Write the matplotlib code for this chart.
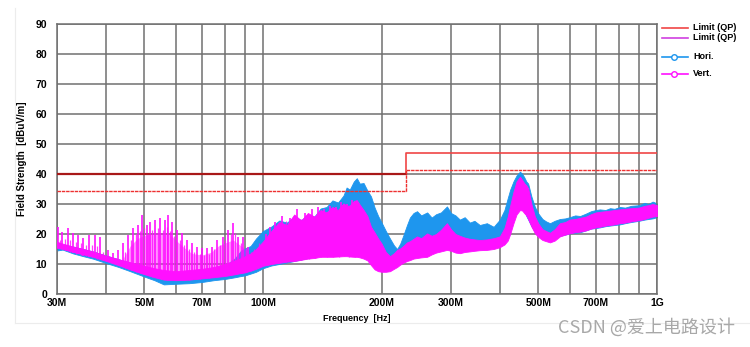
import matplotlib
matplotlib.use("Agg")
import matplotlib.pyplot as plt
from matplotlib.ticker import FixedLocator

# ---- data (MHz / dBuV/m) ----
limit_f = [30, 230, 1000]
limit_qp = [40, 47, 47]
limit_margin = [34.5, 41.5, 41.5]

hori_f = [30, 31, 33, 35, 37, 40, 43, 46, 50, 53, 56, 60, 65, 70, 75, 80, 85, 88, 90, 93,
          96, 100, 105, 110, 115, 120, 125, 130, 135, 140, 145, 150, 155, 160, 163, 166, 170,
          173, 176, 180, 184, 188, 192, 196, 200, 205, 210, 215, 219, 223, 227, 232, 236, 241,
          246, 252, 261, 268, 275, 283, 293, 300, 308, 316, 325, 335, 344, 355, 370, 385, 399,
          410, 418, 424, 432, 440, 449, 455, 460, 466, 471, 480, 490, 500, 512, 523, 535, 550,
          567, 585, 600, 620, 638, 660, 680, 700, 716, 740, 760, 780, 805, 830, 860, 900, 930,
          950, 975, 1000]
hori_lo = [14.5, 14.8, 13.5, 12.6, 11.8, 10.3, 9.0, 7.6, 5.8, 4.6, 3.2, 3.4, 3.6, 4.0, 4.6, 5.0,
           5.6, 6.0, 6.2, 6.8, 7.4, 8.6, 9.5, 10.0, 10.5, 11.0, 11.5, 12.0, 12.5, 13.0, 13.5, 14.0,
           14.5, 15.0, 15.5, 15.8, 16.0, 16.2, 16.0, 15.6, 15.2, 14.8, 14.0, 13.2, 12.4, 11.5, 10.8,
           10.4, 10.2, 10.8, 11.5, 12.5, 13.5, 14.5, 15.2, 15.6, 16.0, 16.2, 16.4, 16.6, 17.0, 17.0,
           16.8, 16.4, 16.4, 16.6, 16.8, 17.0, 17.2, 17.6, 18.2, 19.5, 21.0, 22.5, 25.5, 28.0, 30.0,
           29.5, 28.0, 26.0, 24.8, 22.6, 20.8, 19.8, 19.0, 18.6, 18.4, 18.8, 19.4, 19.8, 20.2, 20.4,
           20.6, 21.2, 21.8, 22.0, 22.2, 22.6, 22.8, 23.0, 23.2, 23.6, 24.0, 24.4, 24.8, 25.0, 25.2,
           25.6]
hori_hi = [17.2, 16.4, 15.8, 15.0, 14.2, 12.8, 11.6, 10.4, 8.8, 7.8, 6.8, 6.2, 6.6, 7.2, 8.0, 9.4,
           12.0, 14.5, 15.2, 16.0, 18.5, 21.0, 22.5, 24.5, 23.8, 25.8, 24.6, 26.5, 25.8, 28.5, 29.0,
           31.2, 30.5, 32.8, 35.5, 34.8, 37.5, 38.6, 36.8, 37.0, 34.5, 32.5, 28.8, 26.0, 23.8, 21.0,
           18.5, 16.2, 15.0, 16.8, 19.5, 23.0, 25.5, 27.0, 27.6, 26.2, 27.2, 25.5, 26.6, 27.2, 29.2,
           27.0, 26.2, 24.8, 25.6, 23.8, 24.4, 23.0, 23.6, 22.4, 24.8, 28.0, 32.0, 34.8, 37.5, 39.5,
           40.8, 40.0, 39.0, 37.5, 36.8, 32.5, 29.0, 26.8, 25.0, 24.2, 23.6, 24.4, 25.0, 25.2, 25.6,
           26.2, 26.0, 26.8, 27.6, 28.0, 28.2, 28.0, 28.6, 28.4, 29.0, 28.8, 29.4, 29.6, 30.4, 30.0,
           30.8, 30.2]

vert_f = hori_f
vert_lo = [15.4, 15.0, 14.0, 13.2, 12.4, 11.0, 9.6, 8.2, 6.6, 5.6, 4.8, 4.6, 4.8, 5.2, 5.6, 6.0,
           6.6, 7.0, 7.2, 7.8, 8.4, 9.4, 10.0, 10.4, 10.8, 11.0, 11.4, 11.8, 12.0, 12.4, 12.4, 12.4,
           12.5, 12.6, 12.6, 12.5, 12.4, 12.4, 12.2, 11.8, 11.2, 9.6, 8.2, 7.6, 7.4, 7.4, 7.6, 8.4,
           9.0, 9.8, 10.4, 11.0, 11.3, 11.8, 12.0, 12.2, 12.4, 13.2, 13.8, 14.2, 14.7, 14.4, 13.8,
           13.6, 14.0, 14.2, 14.4, 14.6, 14.7, 15.0, 15.6, 16.5, 17.8, 20.0, 23.5, 26.5, 28.0, 27.8,
           27.0, 26.2, 25.0, 22.5, 20.2, 19.0, 18.0, 17.6, 17.2, 17.8, 19.2, 19.8, 20.2, 20.6, 20.8,
           21.2, 21.8, 22.2, 22.4, 22.8, 23.0, 23.2, 23.6, 23.8, 24.2, 24.6, 25.0, 25.4, 25.8, 26.0]
vert_hi = [17.4, 16.8, 15.8, 15.0, 14.2, 12.8, 11.6, 10.6, 9.4, 8.6, 8.0, 7.6, 8.0, 8.4, 9.0,
           10.0, 11.2, 12.0, 12.6, 13.5, 15.0, 17.5, 21.0, 24.0, 23.0, 26.5, 24.5, 27.0, 25.8, 28.0,
           27.2, 29.0, 28.0, 30.2, 29.4, 29.5, 31.0, 31.3, 29.8, 28.0, 26.0, 22.4, 20.5, 18.5, 16.8,
           14.0, 12.6, 13.6, 14.7, 15.2, 16.0, 17.2, 17.6, 18.4, 19.2, 18.6, 20.2, 19.4, 20.0, 21.4,
           23.6, 21.6, 20.0, 19.4, 18.8, 18.4, 18.2, 18.0, 18.2, 18.6, 19.2, 22.0, 25.8, 29.5, 34.0,
           37.5, 39.1, 38.0, 37.0, 36.2, 35.2, 30.0, 25.8, 23.5, 21.6, 21.0, 20.4, 21.6, 23.6, 24.0,
           24.8, 25.0, 25.4, 25.8, 26.6, 27.2, 27.4, 27.6, 27.8, 28.0, 28.2, 28.4, 28.6, 28.8, 29.4,
           29.6, 30.0, 29.6]

# strong harmonic spikes on the vertical trace
spike_f = [30.2, 30.9, 32.0, 32.9, 34.0, 35.0, 36.2, 37.4, 38.6, 40.4, 41.6, 42.9, 44.1, 45.4,
           46.8, 48.2, 49.3, 50.8, 51.7, 53.2, 54.8, 56.4, 57.4, 58.8, 60.5, 62.3, 64.1, 66.0,
           68.0, 70.0, 72.1, 74.2, 76.4, 79.2, 81.5, 83.9, 86.4, 89.0, 91.6,
           102, 104, 107, 112, 117, 122, 128, 133, 138, 143, 148, 153, 158, 163, 168]
spike_top = [22.4, 20.8, 22.0, 20.2, 19.7, 18.6, 19.7, 19.7, 19.1, 14.7, 13.6, 14.7, 17.0, 19.7,
             22.0, 23.0, 26.3, 23.0, 24.1, 24.7, 25.2, 24.7, 26.3, 24.0, 21.3, 20.2, 18.0, 17.0,
             15.8, 15.3, 15.3, 15.8, 18.0, 19.1, 21.3, 23.6, 19.1, 19.1, 15.8,
             20.0, 22.5, 24.0, 26.0, 25.5, 28.5, 27.0, 28.2, 29.0, 28.5, 29.5, 29.0, 30.8, 30.0, 31.5]
spike_base = [15.3, 15.0, 14.2, 13.8, 13.2, 12.8, 12.4, 12.0, 11.6, 10.8, 10.2, 9.6, 9.0, 8.4,
              7.8, 7.2, 6.8, 6.4, 6.0, 5.6, 5.2, 4.9, 4.8, 4.7, 4.6, 4.6, 4.7, 4.8, 5.0, 5.2,
              5.4, 5.6, 5.8, 6.0, 6.2, 6.6, 6.8, 7.2, 7.6,
              9.6, 9.8, 10.2, 10.6, 10.9, 11.2, 11.6, 11.9, 12.2, 12.4, 12.4, 12.5, 12.6, 12.6, 12.5]

# weaker spikes in between
minor_f = [30.55, 31.45, 32.45, 33.45, 34.5, 35.6, 36.8, 38.0, 39.3, 44.7, 46.1, 47.5, 48.8,
           50.0, 51.2, 52.4, 54.0, 55.6, 56.9, 58.1, 59.6, 61.4, 63.2, 65.0, 67.0, 69.0, 71.0,
           73.1, 75.3, 77.8, 80.3, 82.7, 85.1, 87.7, 90.3, 93.0, 95.0, 97.5,
           103, 105.5, 109.5, 114.5, 119.5, 125, 130.5, 135.5, 140.5, 145.5, 150.5, 155.5, 160.5,
           165.5, 171]
minor_top = [18.0, 18.5, 18.0, 17.5, 17.0, 16.5, 16.5, 16.0, 14.0, 14.0, 18.0, 20.0, 21.0,
             22.0, 20.0, 21.5, 22.0, 21.5, 22.5, 21.0, 19.5, 18.0, 16.5, 15.0, 14.0, 13.5, 13.0,
             13.5, 15.0, 16.5, 18.0, 20.0, 20.5, 17.0, 15.5, 14.0, 15.0, 17.0,
             19.0, 21.0, 23.0, 24.5, 24.0, 25.0, 26.0, 25.5, 27.0, 27.5, 27.0, 28.0, 28.5,
             29.0, 30.0]
minor_base = [15.2, 14.6, 14.0, 13.5, 13.0, 12.6, 12.2, 11.8, 11.2, 8.7, 8.1, 7.5, 7.0, 6.6,
              6.2, 5.8, 5.4, 5.0, 4.8, 4.7, 4.6, 4.6, 4.7, 4.8, 4.9, 5.1, 5.3, 5.5, 5.7, 5.9,
              6.1, 6.4, 6.7, 7.0, 7.4, 7.8, 8.3, 8.9,
              9.7, 10.0, 10.4, 10.8, 11.0, 11.4, 11.8, 12.0, 12.3, 12.4, 12.4, 12.5, 12.6,
              12.5, 12.4]

# pink haze between the dense spikes
haze_f = [44, 46, 48, 50, 53, 56, 58, 60, 63, 66, 70, 74, 77, 80, 84, 88, 92]
haze_lo = [9.0, 8.2, 7.4, 6.6, 5.8, 5.0, 4.8, 4.6, 4.7, 4.8, 5.2, 5.5, 5.8, 6.0, 6.5, 7.0, 7.6]
haze_hi = [11.5, 16.0, 18.5, 19.5, 20.5, 20.5, 20.0, 18.0, 15.5, 13.5, 13.0, 14.0, 16.0, 17.0,
           18.0, 16.0, 14.0]

x_ticks = [30, 50, 70, 100, 200, 300, 500, 700, 1000]
x_ticklabels = ["30M", "50M", "70M", "100M", "200M", "300M", "500M", "700M", "1G"]
x_grid = [40, 60, 80, 90, 400, 600, 800, 900]

BLUE = "#1e96ee"
MAGENTA = "#ff10ff"

plt.rcParams["font.family"] = ["Liberation Sans", "DejaVu Sans"]

fig = plt.figure(figsize=(7.5, 3.47), dpi=100)
ax = fig.add_axes([57 / 750, 53 / 347, 600 / 750, 270 / 347])

# spectrum traces
ax.fill_between(hori_f, hori_lo, hori_hi, color=BLUE, lw=0.6, zorder=2)
ax.fill_between(haze_f, haze_lo, haze_hi, color=MAGENTA, alpha=0.45, lw=0, zorder=3)
ax.fill_between(vert_f, vert_lo, vert_hi, color=MAGENTA, lw=0.6, zorder=3)
ax.vlines(minor_f, minor_base, minor_top, color=MAGENTA, lw=0.9, alpha=0.8, zorder=3)
ax.vlines(spike_f, spike_base, spike_top, color=MAGENTA, lw=1.2, zorder=3)

# limit lines
ax.step(limit_f, limit_qp, where="post", color="#f04545", lw=1.2, zorder=4)
ax.plot(limit_f[:2], [limit_qp[0]] * 2, color="#a81818", lw=1.6, zorder=4)
ax.step(limit_f, limit_margin, where="post", color="#ee3030", lw=1.0,
        ls=(0, (2.5, 0.6)), zorder=4)

ax.set_xscale("log")
ax.set_xlim(30, 1000)
ax.set_ylim(0, 90)
ax.xaxis.set_major_locator(FixedLocator(x_ticks))
ax.xaxis.set_minor_locator(FixedLocator(x_grid))
ax.set_xticklabels(x_ticklabels)
ax.set_yticks(range(0, 91, 10))
ax.grid(True, which="both", color="#707070", lw=1.1, zorder=1)
ax.set_axisbelow(True)
ax.tick_params(which="both", length=0, labelsize=7.5, pad=3)
ax.tick_params(axis="y", pad=7)
for lab in ax.get_xticklabels() + ax.get_yticklabels():
    lab.set_fontweight("bold")
for s in ax.spines.values():
    s.set_color("#707070")
    s.set_linewidth(1.1)

ax.set_xlabel("Frequency  [Hz]", fontsize=6.5, fontweight="bold", labelpad=4)
ax.set_ylabel("Field Strength  [dBuV/m]", fontsize=7, fontweight="bold", labelpad=6)

# legend drawn at the right of the plot
leg = [("Limit (QP)", "#f04545", None, 0.986),
       ("Limit (QP)", "#d040e0", None, 0.949),
       ("Hori.", BLUE, "o", 0.879),
       ("Vert.", MAGENTA, "o", 0.815)]
for name, col, mk, yy in leg:
    ax.plot([1.008, 1.052], [yy, yy], transform=ax.transAxes, color=col, lw=1.2,
            clip_on=False)
    if mk:
        ax.plot([1.028], [yy], transform=ax.transAxes, color=col, marker=mk, ms=4,
                mfc="white", mew=1.0, clip_on=False)
    ax.text(1.06, yy, name, transform=ax.transAxes, fontsize=6.5, fontweight="bold",
            va="center", ha="left")

# faint screenshot frame
fig.add_artist(plt.Line2D([15 / 750, 15 / 750], [24 / 347, 339 / 347], color="#ececec", lw=0.8))
fig.add_artist(plt.Line2D([15 / 750, 1], [24 / 347, 24 / 347], color="#ececec", lw=0.8))

fig.text(735 / 750, 20 / 347, "CSDN @爱上电路设计", ha="right", va="center", fontsize=13,
         color="#a8a8a8", family=["Noto Sans CJK SC", "DejaVu Sans"])

fig.savefig("out.png", dpi=100)
